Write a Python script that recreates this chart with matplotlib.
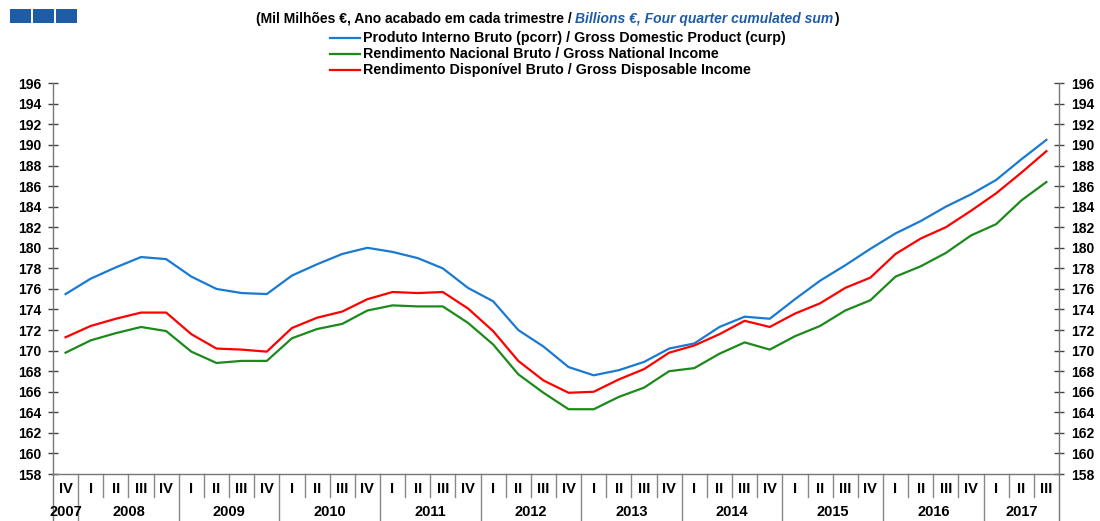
import matplotlib.pyplot as plt
from matplotlib.lines import Line2D
from matplotlib.patches import Rectangle

plt.rcParams['font.family'] = ['Liberation Sans', 'DejaVu Sans']
plt.rcParams['font.weight'] = 'bold'

# quarter labels, 2007 IV .. 2017 III
quarters = ['IV'] + ['I', 'II', 'III', 'IV'] * 9 + ['I', 'II', 'III']
years = ['2007', '2008', '2009', '2010', '2011', '2012',
         '2013', '2014', '2015', '2016', '2017']

# GDP (current prices)
gdp = [175.5, 177.0, 178.1, 179.1, 178.9, 177.2, 176.0, 175.6, 175.5, 177.3,
       178.4, 179.4, 180.0, 179.6, 179.0, 178.0, 176.1, 174.8, 172.0, 170.4,
       168.4, 167.6, 168.1, 168.9, 170.2, 170.7, 172.3, 173.3, 173.1, 175.0,
       176.8, 178.3, 179.9, 181.4, 182.6, 184.0, 185.2, 186.6, 188.6, 190.5]
# Gross National Income
gni = [169.8, 171.0, 171.7, 172.3, 171.9, 169.9, 168.8, 169.0, 169.0, 171.2,
       172.1, 172.6, 173.9, 174.4, 174.3, 174.3, 172.7, 170.6, 167.7, 165.9,
       164.3, 164.3, 165.5, 166.4, 168.0, 168.3, 169.7, 170.8, 170.1, 171.4,
       172.4, 173.9, 174.9, 177.2, 178.2, 179.5, 181.2, 182.3, 184.6, 186.4]
# Gross Disposable Income
gdi = [171.3, 172.4, 173.1, 173.7, 173.7, 171.6, 170.2, 170.1, 169.9, 172.2,
       173.2, 173.8, 175.0, 175.7, 175.6, 175.7, 174.1, 171.9, 169.0, 167.1,
       165.9, 166.0, 167.2, 168.2, 169.8, 170.5, 171.6, 172.9, 172.3, 173.6,
       174.6, 176.1, 177.1, 179.4, 180.9, 182.0, 183.6, 185.3, 187.3, 189.4]

labels = ['Produto Interno Bruto (pcorr) / Gross Domestic Product (curp)',
          'Rendimento Nacional Bruto / Gross National Income',
          'Rendimento Disponível Bruto / Gross Disposable Income']
colors = ['#1a7ad2', '#1b8a1b', '#ff0000']

W, H = 1100, 521
fig = plt.figure(figsize=(W / 100, H / 100), dpi=100)
ax = fig.add_axes([53 / W, 1 - 474 / H, (1059 - 53) / W, (474 - 83.3) / H])
ah = 474 - 83.3

x = list(range(len(quarters)))
for series, c in zip([gdp, gni, gdi], colors):
    ax.plot(x, series, color=c, lw=1.6)

ax.set_xlim(-0.5, len(quarters) - 0.5)
ax.set_ylim(158, 196)
ax.set_yticks(range(158, 197, 2))
ax.set_xticks([])
ax.tick_params(axis='y', direction='inout', length=7, width=1, color='#444444',
               labelsize=10, pad=5, left=True, right=True,
               labelleft=True, labelright=True)
for lab in ax.get_yticklabels():
    lab.set_fontweight('bold')
ax.spines['top'].set_visible(False)
for s in ['left', 'right', 'bottom']:
    ax.spines[s].set_color('#777777')
    ax.spines[s].set_linewidth(1)

# category axis below the plot
tr = ax.get_xaxis_transform()
q_drop = -23 / ah
y_drop = -48 / ah
for i in range(1, len(quarters)):
    bottom = y_drop if quarters[i] == 'I' else q_drop
    ax.plot([i - 0.5, i - 0.5], [0, bottom], transform=tr, color='#888888',
            lw=1, clip_on=False)
for xe in [-0.5, len(quarters) - 0.5]:
    ax.plot([xe, xe], [0, y_drop], transform=tr, color='#777777', lw=1,
            clip_on=False)
for i, q in enumerate(quarters):
    ax.text(i, -15 / ah, q, transform=tr, ha='center', va='center',
            fontsize=10.5, fontweight='bold')

# year labels centred over their quarters
groups = []
for i, q in enumerate(quarters):
    if i == 0 or q == 'I':
        groups.append([i])
    else:
        groups[-1].append(i)
for yr, g in zip(years, groups):
    ax.text((g[0] + g[-1]) / 2, -38 / ah, yr, transform=tr,
            ha='center', va='center', fontsize=10.5, fontweight='bold')

# logo squares
for x0 in [9.5, 32.5, 56]:
    fig.patches.append(Rectangle((x0 / W, 1 - 23.3 / H), 21 / W, 14 / H,
                                 transform=fig.transFigure,
                                 facecolor='#1f5ca6', edgecolor='none'))

# title in two colours
fig.canvas.draw()
renderer = fig.canvas.get_renderer()
parts = [('(Mil Milhões €, Ano acabado em cada trimestre / ', 'black', 'normal'),
         ('Billions €, Four quarter cumulated sum', '#1f5ca6', 'italic'),
         (')', 'black', 'normal')]
texts = []
widths = []
for s, c, st in parts:
    t = fig.text(0, 1 - 19 / H, s, color=c, style=st, fontsize=10,
                 fontweight='bold', va='center', ha='left')
    bb = t.get_window_extent(renderer)
    texts.append(t)
    widths.append(bb.width)
xpos = 547 - sum(widths) / 2
for t, w in zip(texts, widths):
    t.set_x(xpos / W)
    xpos += w

# legend
for k, (lab, c) in enumerate(zip(labels, colors)):
    yy = 1 - (38 + 16 * k) / H
    fig.add_artist(Line2D([330 / W, 360 / W], [yy, yy], color=c, lw=1.6))
    fig.text(363 / W, yy, lab, fontsize=10.3, fontweight='bold', va='center',
             ha='left')

fig.savefig('out.png', dpi=100)
